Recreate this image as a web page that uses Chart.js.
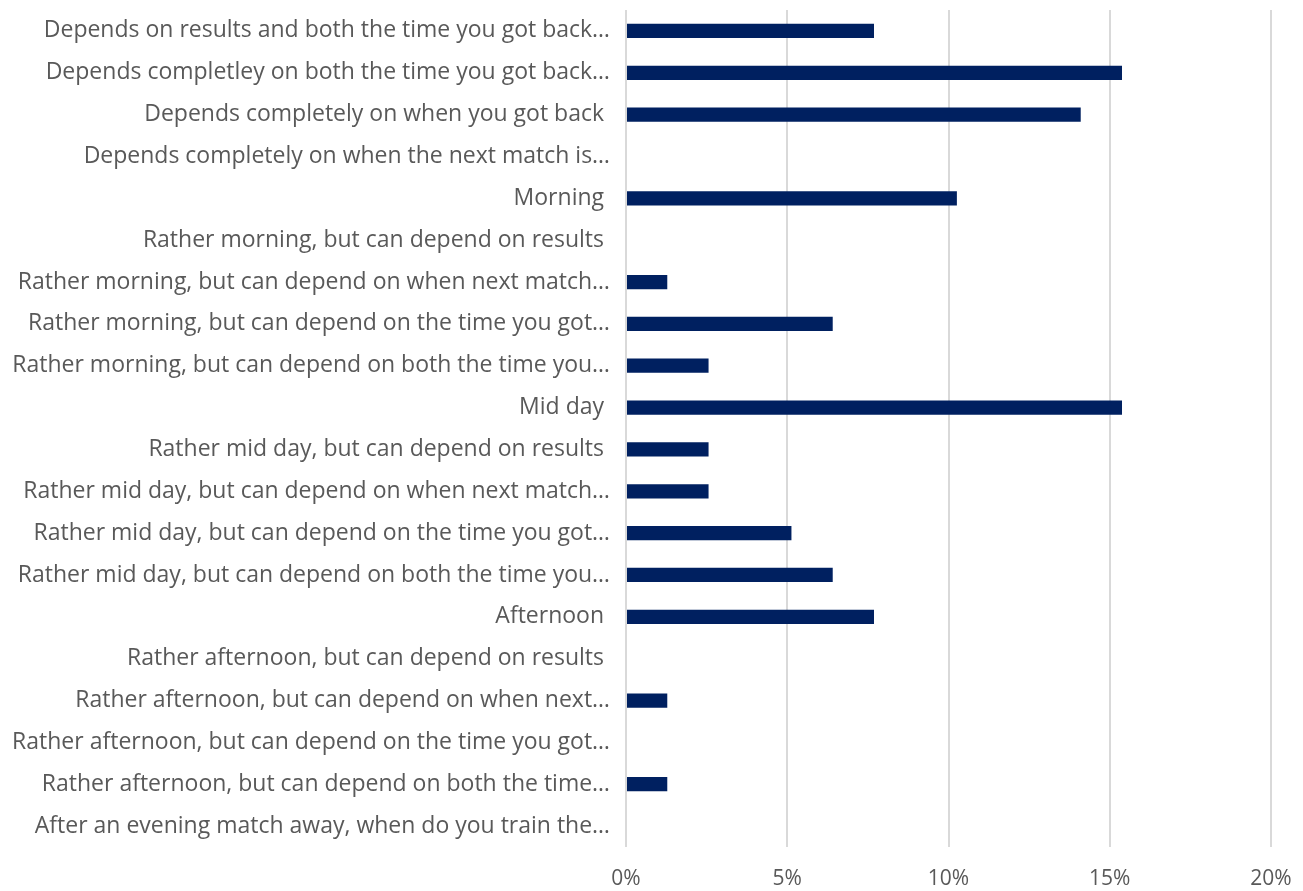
<!DOCTYPE html>
<html>
<head>
<meta charset="utf-8">
<script src="https://cdn.jsdelivr.net/npm/chart.js@4"></script>
<style>
    html, body { margin: 0; padding: 0; background: #fff; overflow: hidden; }
</style>
</head>
<body>
<canvas id="myChart" width="1303" height="891"></canvas>
<script>
const categories = [
    'Depends on results and both the time you got back…',
    'Depends completley on both the time you got back…',
    'Depends completely on when you got back ',
    'Depends completely on when the next match is…',
    'Morning ',
    'Rather morning, but can depend on results ',
    'Rather morning, but can depend on when next match…',
    'Rather morning, but can depend on the time you got…',
    'Rather morning, but can depend on both the time you…',
    'Mid day ',
    'Rather mid day, but can depend on results ',
    'Rather mid day, but can depend on when next match…',
    'Rather mid day, but can depend on the time you got…',
    'Rather mid day, but can depend on both the time you…',
    'Afternoon ',
    'Rather afternoon, but can depend on results ',
    'Rather afternoon, but can depend on when next…',
    'Rather afternoon, but can depend on the time you got…',
    'Rather afternoon, but can depend on both the time…',
    'After an evening match away, when do you train the…'
];

const percentages = [7.69, 15.38, 14.10, 0, 10.26, 0, 1.28, 6.41, 2.56, 15.38,
                     2.56, 2.56, 5.13, 6.41, 7.69, 0, 1.28, 0, 1.28, 0];

const xTicks = [0, 5, 10, 15, 20];

const ctx = document.getElementById('myChart');

new Chart(ctx, {
    type: 'bar',
    data: {
        labels  : categories,
        datasets: [
            {
                data              : percentages,
                backgroundColor   : '#002060',
                categoryPercentage: 1,
                barPercentage     : 0.34
            }
        ]
    },
    options: {
        indexAxis : 'y',
        responsive: false,
        animation : false,
        layout: {
            padding: { top: 10, right: 32, bottom: 1, left: 0 }
        },
        plugins: {
            legend : { display: false },
            tooltip: { enabled: false }
        },
        scales: {
            x: {
                min : 0,
                max : 20,
                afterBuildTicks: axis => {
                    axis.ticks = xTicks.map(v => ({ value: v }));
                },
                grid: {
                    color    : '#d9d9d9',
                    lineWidth: 2,
                    drawTicks: false
                },
                border: { display: false },
                ticks: {
                    color   : '#595959',
                    padding : 19,
                    font    : { family: 'Open Sans', size: 21 },
                    callback: v => v + '%'
                },
                afterFit: axis => {
                    axis.height = 43;
                    axis.paddingLeft = 0;
                    axis.paddingRight = 0;
                }
            },
            y: {
                grid  : { display: false },
                border: { display: false },
                ticks : {
                    color   : '#595959',
                    padding : 8,
                    autoSkip: false,
                    font    : { family: 'Open Sans', size: 23 }
                },
                afterFit: axis => {
                    axis.width = 626;
                    axis.paddingTop = 0;
                    axis.paddingBottom = 0;
                }
            }
        }
    }
});
</script>
</body>
</html>
